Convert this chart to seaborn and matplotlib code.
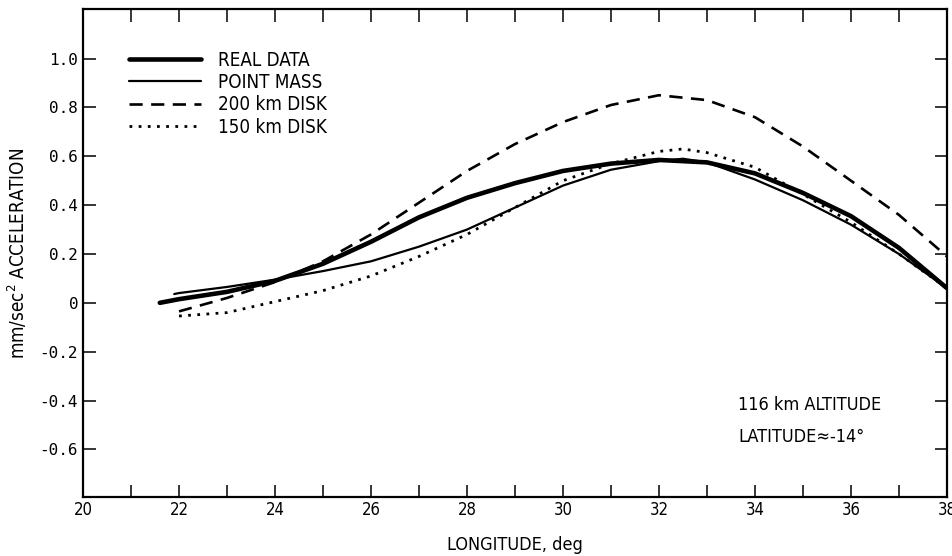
import pandas as pd
import seaborn as sns
import matplotlib.pyplot as plt
from matplotlib.ticker import MultipleLocator, FixedLocator

# values (longitude in deg, acceleration in mm/sec^2)
real_lon = [21.6, 22, 23, 24, 25, 26, 27, 28, 29, 30, 31, 32, 33, 34, 35, 36, 37, 38]
real_acc = [0.0, 0.015, 0.045, 0.09, 0.16, 0.25, 0.35, 0.43, 0.49, 0.54, 0.57, 0.585,
            0.575, 0.53, 0.45, 0.355, 0.225, 0.06]

point_lon = [21.9, 22, 23, 24, 25, 26, 27, 28, 29, 30, 31, 32, 32.5, 33, 34, 35, 36, 37, 38]
point_acc = [0.036, 0.04, 0.065, 0.095, 0.13, 0.17, 0.23, 0.30, 0.39, 0.48, 0.545, 0.58,
             0.59, 0.575, 0.505, 0.42, 0.32, 0.20, 0.06]

disk200_lon = [22, 23, 24, 25, 26, 27, 28, 29, 30, 31, 32, 33, 34, 35, 36, 37, 38]
disk200_acc = [-0.035, 0.02, 0.085, 0.17, 0.28, 0.41, 0.54, 0.65, 0.74, 0.81, 0.85, 0.83,
               0.76, 0.64, 0.50, 0.36, 0.19]

disk150_lon = [22, 23, 24, 25, 26, 27, 28, 29, 30, 31, 32, 32.5, 33, 34, 35, 36, 37, 38]
disk150_acc = [-0.054, -0.04, 0.005, 0.05, 0.11, 0.19, 0.28, 0.39, 0.50, 0.57, 0.62, 0.63,
               0.615, 0.555, 0.445, 0.33, 0.20, 0.06]

x_ticks = [20, 22, 24, 26, 28, 30, 32, 34, 36, 38]
y_ticks = [-0.6, -0.4, -0.2, 0, 0.2, 0.4, 0.6, 0.8, 1.0]
y_labels = ["-0.6", "-0.4", "-0.2", "0", "0.2", "0.4", "0.6", "0.8", "1.0"]

sns.set_style("ticks")
plt.rcParams['font.family'] = ['DejaVu Sans']
plt.rcParams['font.stretch'] = 'condensed'
plt.rcParams['text.color'] = 'black'
plt.rcParams['axes.labelcolor'] = 'black'
plt.rcParams['xtick.color'] = 'black'
plt.rcParams['ytick.color'] = 'black'

fig = plt.figure(figsize=(9.52, 5.56), dpi=100)
ax = fig.add_axes([0.0872, 0.1061, 0.9075, 0.8777])

sns.lineplot(x=real_lon, y=real_acc, ax=ax, color='black', lw=3.3, label='REAL DATA')
sns.lineplot(x=point_lon, y=point_acc, ax=ax, color='black', lw=1.6, label='POINT MASS')
sns.lineplot(x=disk200_lon, y=disk200_acc, ax=ax, color='black', lw=1.9,
             label='200 km DISK').lines[-1].set_dashes([5, 3.2])
sns.lineplot(x=disk150_lon, y=disk150_acc, ax=ax, color='black', lw=2.0,
             label='150 km DISK').lines[-1].set_dashes([1, 2.3])

ax.set_xlim(20, 38)
ax.set_ylim(-0.795, 1.203)
ax.xaxis.set_major_locator(FixedLocator(x_ticks))
ax.xaxis.set_minor_locator(MultipleLocator(1))
ax.yaxis.set_major_locator(FixedLocator(y_ticks))
ax.set_yticklabels(y_labels, family='DejaVu Sans Mono', fontsize=11.5)
ax.set_xticklabels([str(t) for t in x_ticks], fontsize=12)
ax.tick_params(which='both', direction='in', length=9, width=1.1,
               top=True, right=True)
ax.tick_params(axis='x', which='major', pad=3)
for s in ax.spines.values():
    s.set_linewidth(1.6)
    s.set_color('black')

ax.set_xlabel('LONGITUDE, deg', fontsize=13, labelpad=12)
ax.set_ylabel('mm/sec$^2$ ACCELERATION', fontsize=13.5, labelpad=8)

ax.text(33.65, -0.42, '116 km ALTITUDE', fontsize=13, va='center')
ax.text(33.65, -0.55, 'LATITUDE\u2248-14\u00b0', fontsize=13, va='center')

leg = ax.legend(loc='upper left', bbox_to_anchor=(0.045, 0.93), frameon=False,
                fontsize=13.5, handlelength=3.8, handletextpad=0.9,
                labelspacing=0.18, borderaxespad=0)

plt.savefig('out.png', dpi=100)
plt.close()
